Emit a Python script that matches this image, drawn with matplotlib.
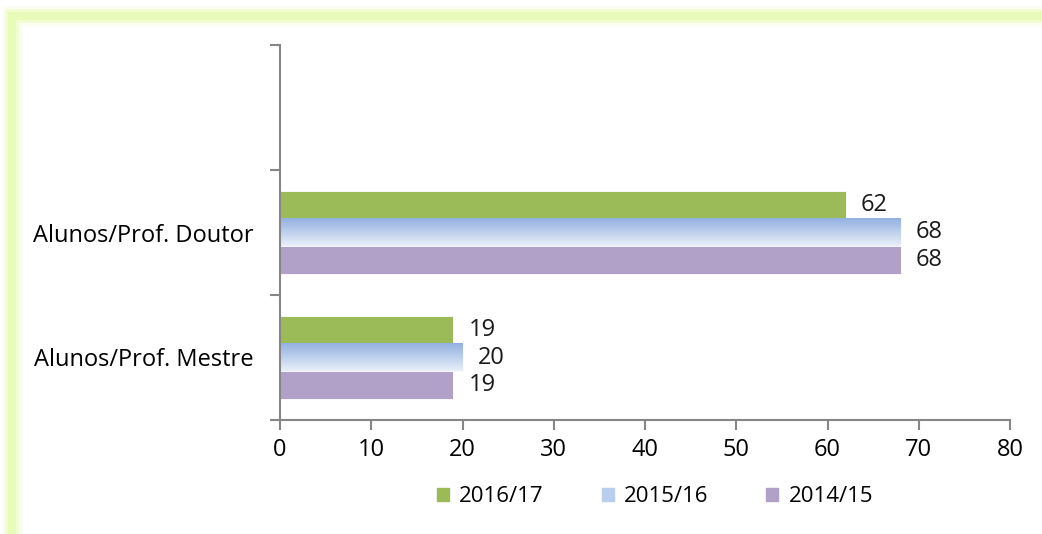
import numpy as np
import matplotlib.pyplot as plt
from matplotlib.patches import Rectangle
from matplotlib.lines import Line2D
from matplotlib.colors import LinearSegmentedColormap

categories = ["Alunos/Prof. Mestre", "Alunos/Prof. Doutor", ""]
series = ["2016/17", "2015/16", "2014/15"]
values = {
    "2016/17": [19, 62, None],
    "2015/16": [20, 68, None],
    "2014/15": [19, 68, None],
}
colors = {"2016/17": "#9bbb59", "2015/16": "#b9cdee", "2014/15": "#b1a0c7"}

plt.rcParams['font.family'] = ['Open Sans', 'DejaVu Sans']
plt.rcParams['font.size'] = 16.5

fig = plt.figure(figsize=(10.42, 5.34), dpi=100)
ax = fig.add_axes([280/1042, 1 - 420/534, 730/1042, 375/534])

# light yellow-green glow along top and left of the frame
for w, a in [(14, 0.2), (10, 0.4), (6, 0.75)]:
    fig.add_artist(Line2D([12/1042, 12/1042, 1.0], [0.0, 1 - 16/534, 1 - 16/534],
                          transform=fig.transFigure, color="#e6fbb0",
                          lw=w, alpha=a, solid_joinstyle="miter"))

n = len(series)
bar_h = 0.67 / n
ypos = np.arange(len(categories))

# vertical gradient for the 2015/16 bars
grad = np.linspace(0, 1, 64).reshape(-1, 1)
blue_cmap = LinearSegmentedColormap.from_list("b", ["#e9eff9", "#93b1e0"])

for i, s in enumerate(series):
    offs = (1 - i) * bar_h
    vals = [v if v is not None else 0 for v in values[s]]
    bars = ax.barh(ypos + offs, vals, height=bar_h, color=colors[s],
                   edgecolor="white", linewidth=0.6, label=s, zorder=2)
    for b, v in zip(bars, values[s]):
        if v is None:
            b.set_visible(False)
            continue
        if s == "2015/16":
            y0 = b.get_y()
            ax.imshow(grad, cmap=blue_cmap, aspect="auto", zorder=2.5,
                      extent=[0, v, y0, y0 + b.get_height()], origin="lower")
        ax.annotate(str(v), (v, b.get_y() + b.get_height() / 2),
                    xytext=(11, 0), textcoords="offset points",
                    va="center", ha="left", fontsize=17, color="#1a1a1a")

ax.set_xlim(0, 80)
ax.set_ylim(-0.5, 2.5)
ax.set_xticks(np.arange(0, 81, 10))
ax.set_yticks(ypos)
ax.set_yticklabels(categories, fontsize=17)
ax.set_yticks(np.arange(-0.5, 2.6, 1), minor=True)
ax.tick_params(axis="y", which="major", length=0, pad=19)
ax.tick_params(axis="y", which="minor", length=7, width=1.5, color="#868686")
ax.tick_params(axis="x", length=7, width=1.5, color="#868686", pad=6, labelsize=17)
for side in ["top", "right"]:
    ax.spines[side].set_visible(False)
for side in ["left", "bottom"]:
    ax.spines[side].set_color("#868686")
    ax.spines[side].set_linewidth(1.5)
ax.set_aspect("auto")

handles = [Rectangle((0, 0), 1, 1, color=colors[s]) for s in series]
fig.legend(handles, series, loc="center", bbox_to_anchor=(655/1042, 1 - 497/534),
           ncol=3, frameon=False, handlelength=0.55, handleheight=0.55,
           columnspacing=2.6, handletextpad=0.45, fontsize=16)

fig.savefig("out.png", dpi=100)
